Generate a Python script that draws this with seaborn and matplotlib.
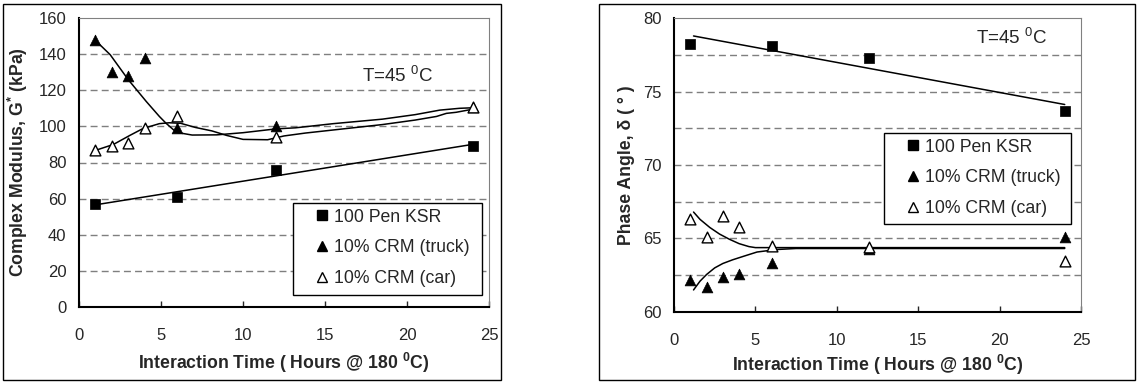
import numpy as np
import matplotlib
matplotlib.use("Agg")
import matplotlib.pyplot as plt
from matplotlib.patches import Rectangle
from matplotlib.lines import Line2D
import seaborn as sns

# ---------------- data ----------------
hours = [1, 2, 3, 4, 6, 12, 24]
pen_hours = [1, 6, 12, 24]

# Complex modulus G* (kPa)
pen_G = [57, 61, 76, 89]
truck_G = [148, 130, 128, 138, 99, 100, 111]
car_G = [87, 89, 91, 99, 106, 94, 111]

# Phase angle (deg)
pen_delta = [78.2, 78.1, 77.3, 73.7]
truck_delta = [62.2, 61.7, 62.4, 62.6, 63.3, 64.3, 65.1]
car_delta = [66.3, 65.1, 66.5, 65.8, 64.5, 64.4, 63.5]

# smoothed trend curves as drawn in the source chart
truck_G_curve_x = [1.0, 1.9, 3.0, 4.1, 4.9, 5.3, 5.75, 6.0, 6.9, 8.4, 10.0, 12.0, 13.2, 15.5, 18.5, 20.5, 22.0, 23.2, 24.0]
truck_G_curve_y = [147.6, 139.7, 125.9, 113.8, 105.5, 101.8, 98.2, 96.6, 95.2, 95.3, 96.5, 98.6, 99.2, 101.5, 104.0, 106.5, 109.0, 110.0, 110.3]
car_G_curve_x = [1.0, 2.1, 3.1, 3.9, 4.9, 5.5, 6.2, 7.1, 8.1, 9.0, 10.0, 11.5, 12.5, 13.8, 16.0, 18.5, 20.5, 21.8, 22.4, 23.0, 24.0]
car_G_curve_y = [86.7, 90.0, 95.0, 98.8, 101.5, 102.0, 101.7, 99.4, 97.5, 95.0, 92.8, 92.6, 94.7, 96.3, 98.5, 101.0, 103.5, 105.5, 107.2, 107.8, 109.5]

car_d_curve_x = [1.2, 1.6, 2.2, 2.8, 3.4, 4.0, 4.6, 5.0, 24.0]
car_d_curve_y = [66.8, 66.3, 65.75, 65.3, 64.95, 64.65, 64.45, 64.38, 64.38]
truck_d_curve_x = [1.2, 1.6, 2.0, 2.5, 3.0, 3.6, 4.3, 5.1, 6.3, 7.5, 24.0]
truck_d_curve_y = [61.5, 62.1, 62.55, 63.0, 63.3, 63.55, 63.8, 64.08, 64.25, 64.32, 64.32]

pen_G_trend_range = [1, 24]
pen_d_trend_range = [1.2, 24]

legend_labels = ["100 Pen KSR", "10% CRM (truck)", "10% CRM (car)"]
xticks = [0, 5, 10, 15, 20, 25]

# ---------------- style ----------------
sns.set_style("white")
plt.rcParams["font.family"] = ["Liberation Sans", "DejaVu Sans"]
plt.rcParams["mathtext.fontset"] = "custom"
plt.rcParams["mathtext.rm"] = "Liberation Sans"
plt.rcParams["mathtext.bf"] = "Liberation Sans:bold"
plt.rcParams["mathtext.default"] = "regular"

W, H = 1139, 383
fig = plt.figure(figsize=(W / 100, H / 100), dpi=100)

def fx(px):
    return px / W

def fy(py):
    return 1 - py / H

# outer frames
fig.patches.append(Rectangle((fx(3), fy(380)), fx(501) - fx(3), fy(4) - fy(380),
                             transform=fig.transFigure, fill=False, ec="black", lw=1.0))
fig.patches.append(Rectangle((fx(599), fy(380)), fx(1135) - fx(599), fy(4) - fy(380),
                             transform=fig.transFigure, fill=False, ec="black", lw=1.0))

ax1 = fig.add_axes([fx(79), fy(307), fx(489) - fx(79), fy(18) - fy(307)])
ax2 = fig.add_axes([fx(674), fy(312), fx(1081) - fx(674), fy(18) - fy(312)])

MS = 52
TICK_FS = 12
LAB_FS = 12.7
LEG_FS = 12.7
TXT_FS = 13.5


def style_axes(ax, ylim, yticks, grid_vals):
    ax.set_xlim(0, 25)
    ax.set_ylim(*ylim)
    ax.set_xticks(xticks)
    ax.set_yticks(yticks)
    ax.tick_params(axis="x", direction="in", length=4, width=1, pad=15, labelsize=TICK_FS, bottom=True)
    ax.tick_params(axis="y", length=0, pad=9, labelsize=TICK_FS, left=True)
    for g in grid_vals:
        ax.axhline(g, color="#7f7f7f", lw=1.0, ls=(0, (5, 3)), zorder=0)
    for s in ["left", "bottom"]:
        ax.spines[s].set_color("black")
        ax.spines[s].set_linewidth(1.5)
    for s in ["top", "right"]:
        ax.spines[s].set_color("#808080")
        ax.spines[s].set_linewidth(0.8)
    ax.grid(False)


def draw_points(ax, pen_y, truck_y, car_y):
    sns.scatterplot(x=pen_hours, y=pen_y, ax=ax, marker="s", s=MS, color="black",
                    edgecolor="black", linewidth=0.5, zorder=5, legend=False)
    sns.scatterplot(x=hours, y=truck_y, ax=ax, marker="^", s=MS + 8, color="black",
                    edgecolor="black", linewidth=0.5, zorder=5, legend=False)
    sns.scatterplot(x=hours, y=car_y, ax=ax, marker="^", s=MS + 8, color="white",
                    edgecolor="black", linewidth=1.0, zorder=6, legend=False)


def trend(ax, xs, ys, rng):
    coef = np.polyfit(xs, ys, 1)
    xr = np.array(rng, dtype=float)
    sns.lineplot(x=xr, y=np.polyval(coef, xr), ax=ax, color="black", lw=1.1,
                 estimator=None, sort=False, zorder=4)


def curve(ax, xs, ys):
    sns.lineplot(x=xs, y=ys, ax=ax, color="black", lw=1.1, estimator=None,
                 sort=False, zorder=4)


def legend_box(ax, x0, y0, x1, y1):
    ax.add_patch(Rectangle((x0, y0), x1 - x0, y1 - y0, transform=ax.transAxes,
                           fc="white", ec="black", lw=1.0, zorder=7))
    handles = [
        Line2D([], [], ls="none", marker="s", ms=7, mfc="black", mec="black"),
        Line2D([], [], ls="none", marker="^", ms=7.5, mfc="black", mec="black"),
        Line2D([], [], ls="none", marker="^", ms=6.5, mfc="white", mec="black", mew=1.0),
    ]
    leg = ax.legend(handles, legend_labels, loc="upper left",
                    bbox_to_anchor=(x0 + 0.035, y1 + 0.005), frameon=False,
                    fontsize=LEG_FS, handlelength=0.9, handletextpad=0.2,
                    labelspacing=0.78, borderpad=0.4, borderaxespad=0.0)
    leg.set_zorder(8)


# ---- left panel ----
style_axes(ax1, (0, 160), list(range(0, 161, 20)), list(range(20, 141, 20)))
curve(ax1, truck_G_curve_x, truck_G_curve_y)
curve(ax1, car_G_curve_x, car_G_curve_y)
trend(ax1, pen_hours, pen_G, pen_G_trend_range)
draw_points(ax1, pen_G, truck_G, car_G)
ax1.set_xlabel("Interaction Time ( Hours @ 180 $^{0}$C)", fontsize=LAB_FS,
               fontweight="bold", labelpad=6)
ax1.set_ylabel("Complex Modulus, G$^{*}$ (kPa)", fontsize=LAB_FS, fontweight="bold",
               labelpad=6)
ax1.text(0.69, 0.80, "T=45 $^{0}$C", transform=ax1.transAxes, fontsize=TXT_FS,
         ha="left", va="center")
legend_box(ax1, 0.522, 0.0415, 0.983, 0.36)

# ---- right panel ----
style_axes(ax2, (60, 80), [60, 65, 70, 75, 80], [62.5, 65, 67.5, 70, 72.5, 75, 77.5])
curve(ax2, car_d_curve_x, car_d_curve_y)
curve(ax2, truck_d_curve_x, truck_d_curve_y)
trend(ax2, pen_hours, pen_delta, pen_d_trend_range)
draw_points(ax2, pen_delta, truck_delta, car_delta)
ax2.set_xlabel("Interaction Time ( Hours @ 180 $^{0}$C)", fontsize=LAB_FS,
               fontweight="bold", labelpad=4)
ax2.set_ylabel("Phase Angle, δ ( ° )", fontsize=LAB_FS, fontweight="bold", labelpad=6)
ax2.text(0.742, 0.932, "T=45 $^{0}$C", transform=ax2.transAxes, fontsize=TXT_FS,
         ha="left", va="center")
legend_box(ax2, 0.516, 0.299, 0.975, 0.609)

fig.savefig("out.png", dpi=100)
